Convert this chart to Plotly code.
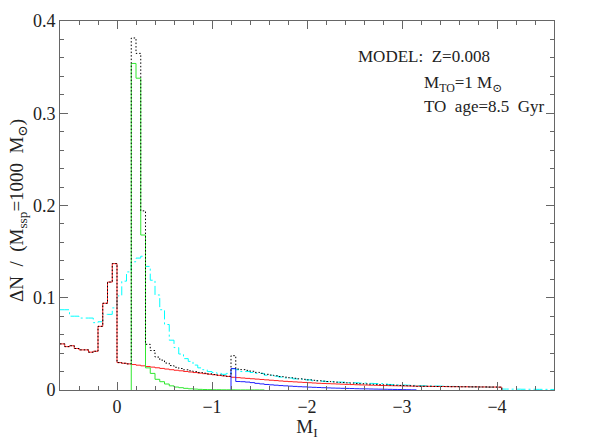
import plotly.graph_objects as go

# histogram bins are 0.05 mag wide, listed from M_I = start towards -4.6
bin_width = 0.05

# red: starts at M_I = 0.60
red_start = 0.60
red = [0.050, 0.047, 0.048, 0.045, 0.0435, 0.0435, 0.041, 0.042, 0.069, 0.094, 0.117, 0.137,
       0.0297, 0.0290, 0.0283, 0.0276, 0.0269, 0.0262, 0.0255, 0.0248, 0.0241, 0.0234, 0.0227, 0.0220,
       0.0214, 0.0208, 0.0201, 0.0195, 0.0189, 0.0183, 0.0177, 0.0171, 0.0165, 0.0159, 0.0153, 0.0147,
       0.0138, 0.0134, 0.0130, 0.0126, 0.0122, 0.0118, 0.0114, 0.0110, 0.0106, 0.0102, 0.0098, 0.0094,
       0.0091, 0.0088, 0.0085, 0.0082, 0.0079, 0.0076, 0.0073, 0.0071, 0.0069, 0.0067, 0.0065, 0.0063,
       0.0061, 0.0059, 0.0057, 0.0055, 0.0054, 0.0052, 0.0051, 0.0049, 0.0048, 0.0047, 0.0046, 0.0045,
       0.0044, 0.0043, 0.0042, 0.0041, 0.0040, 0.0040, 0.0039, 0.0038, 0.0038, 0.0037, 0.0036, 0.0036,
       0.0035, 0.0035, 0.0034, 0.0034, 0.0033, 0.0033, 0.0032, 0.0032, 0.0031]

# green: starts at M_I = -0.15
green_start = -0.15
green = [0.354, 0.338, 0.168, 0.024, 0.018, 0.0116, 0.009, 0.0065, 0.0045, 0.0032, 0.0025, 0.0018,
         0.0013, 0.0010, 0.0007, 0.0005, 0.0004, 0.0003, 0.0003, 0.0002, 0.0002, 0.0002, 0.0001, 0.0001,
         0.0001, 0.0001, 0.0001, 0.0001]

# blue: starts at M_I = -1.20
blue_start = -1.20
blue = [0.0232, 0.0092, 0.0090, 0.0086, 0.0080, 0.0072, 0.0066, 0.0060, 0.0056, 0.0052, 0.0048, 0.0045,
        0.0042, 0.0039, 0.0036, 0.0034, 0.0031, 0.0029, 0.0027, 0.0025, 0.0023, 0.0021, 0.0020, 0.0018,
        0.0017, 0.0016, 0.0014, 0.0013, 0.0012, 0.0011, 0.0010, 0.0009, 0.0008, 0.0007, 0.0006, 0.0005,
        0.0004, 0.0003, 0.0002]

# black dotted total: starts at M_I = 0.60
total_start = 0.60
total = [0.050, 0.047, 0.048, 0.045, 0.0435, 0.0435, 0.041, 0.042, 0.069, 0.094, 0.117, 0.137,
         0.0297, 0.0290, 0.0283, 0.3816, 0.3649, 0.1942, 0.0495, 0.0428, 0.0357, 0.0324, 0.0292, 0.0265,
         0.0246, 0.0233, 0.0219, 0.0208, 0.0199, 0.0190, 0.0182, 0.0175, 0.0168, 0.0162, 0.0155, 0.0149,
         0.0372, 0.0227, 0.0221, 0.0213, 0.0203, 0.0191, 0.0181, 0.0170, 0.0162, 0.0154, 0.0146, 0.0139,
         0.0133, 0.0127, 0.0121, 0.0116, 0.0110, 0.0105, 0.0100, 0.0096, 0.0092, 0.0088, 0.0085, 0.0081,
         0.0078, 0.0075, 0.0071, 0.0068, 0.0066, 0.0063, 0.0061, 0.0058, 0.0056, 0.0054, 0.0052, 0.0050,
         0.0048, 0.0046, 0.0044, 0.0041, 0.0040, 0.0040, 0.0039, 0.0038, 0.0038, 0.0037, 0.0036, 0.0036,
         0.0035, 0.0035, 0.0034, 0.0034, 0.0033, 0.0033, 0.0032, 0.0032, 0.0031]

# cyan dash-dot: starts at M_I = 0.60
cyan_start = 0.60
cyan = [0.087, 0.087, 0.080, 0.080, 0.078, 0.078, 0.078, 0.073, 0.074, 0.082, 0.082, 0.089,
        0.102, 0.118, 0.128, 0.139, 0.143, 0.145, 0.134, 0.119, 0.103, 0.087, 0.071, 0.054,
        0.046, 0.039, 0.034, 0.031, 0.027, 0.024, 0.022, 0.020, 0.019, 0.018, 0.017, 0.018,
        0.023, 0.022, 0.020, 0.020, 0.019, 0.018, 0.018, 0.016, 0.016, 0.015, 0.014, 0.013,
        0.013, 0.012, 0.012, 0.011, 0.011, 0.010, 0.010, 0.0095, 0.009, 0.009, 0.0085, 0.0085,
        0.008, 0.008, 0.0078, 0.0075, 0.0075, 0.0072, 0.007, 0.007, 0.0065, 0.006, 0.006, 0.0055,
        0.0054, 0.0052, 0.0050, 0.0048, 0.0047, 0.0045, 0.0044, 0.0043, 0.0042, 0.0040, 0.0039, 0.0038,
        0.0037, 0.0036, 0.0035, 0.0034, 0.0033, 0.0032, 0.0031, 0.0030, 0.0029,
        0.0010, 0.0010, 0.0009, 0.0009, 0.0008, 0.0008, 0.0008, 0.0007, 0.0007, 0.0007, 0.0006]


def steps(start, vals, close_left=False, close_right=True):
    edges = [round(start - i * bin_width, 4) for i in range(len(vals) + 1)]
    xs, ys = [], []
    if close_left:
        xs.append(edges[0]); ys.append(0)
    xs += edges[:-1]; ys += vals
    xs.append(edges[-1]); ys.append(vals[-1])
    if close_right:
        xs.append(edges[-1]); ys.append(0)
    return xs, ys


fig = go.Figure()

def add(start, vals, color, dash, **kw):
    xs, ys = steps(start, vals, **kw)
    fig.add_trace(go.Scatter(x=xs, y=ys, mode="lines", line_shape="hv",
                             line=dict(color=color, width=1, dash=dash),
                             hoverinfo="skip", showlegend=False))

add(cyan_start, cyan, "#00ffff", "9px,3px,2px,3px", close_right=False)
add(red_start, red, "#ff2020", "solid")
add(blue_start, blue, "#2020ff", "solid", close_left=True)
add(green_start, green, "#30e830", "solid", close_left=True)
add(total_start, total, "#000000", "1.5px,2px")

font_family = "Liberation Serif, DejaVu Serif, serif"
text_color = "#222"
axis_common = dict(showline=True, linecolor="#666", linewidth=1, mirror="allticks",
                   ticks="inside", tickcolor="#666", ticklen=8, showgrid=False, zeroline=False,
                   automargin=False,
                   tickfont=dict(family=font_family, size=18, color=text_color))

fig.update_xaxes(range=[0.6, -4.6], dtick=1, tick0=0,
                 minor=dict(dtick=0.2, ticks="inside", ticklen=4, tickcolor="#666"),
                 title=dict(text="M<sub>I</sub>", font=dict(family=font_family, size=19, color=text_color),
                            standoff=0),
                 **axis_common)
fig.update_yaxes(range=[0, 0.4], dtick=0.1, tick0=0,
                 minor=dict(dtick=0.02, ticks="inside", ticklen=4, tickcolor="#666"),
                 **axis_common)

annot_font = dict(family=font_family, size=17, color=text_color)
fig.add_annotation(text="ΔN  /  (M<sub>ssp</sub>=1000  M<sub>⊙</sub>)", textangle=-90,
                   xref="paper", yref="paper", x=-0.085, y=0.485, xanchor="center", yanchor="middle",
                   showarrow=False, font=dict(family=font_family, size=19, color=text_color))
fig.add_annotation(text="MODEL:  Z=0.008", xref="paper", yref="paper", x=0.599, y=0.905,
                   xanchor="left", yanchor="middle", showarrow=False, font=annot_font)
fig.add_annotation(text="M<sub>TO</sub>=1 M<sub>⊙</sub>", xref="paper", yref="paper", x=0.732, y=0.829,
                   xanchor="left", yanchor="middle", showarrow=False, font=annot_font)
fig.add_annotation(text="TO  age=8.5  Gyr", xref="paper", yref="paper", x=0.732, y=0.767,
                   xanchor="left", yanchor="middle", showarrow=False, font=annot_font)

fig.update_layout(width=589, height=440, margin=dict(l=60, r=35, t=21, b=50),
                  plot_bgcolor="white", paper_bgcolor="white")

fig.write_html("out.html", config={"displayModeBar": False},
               post_script="document.body.style.margin='0';")
